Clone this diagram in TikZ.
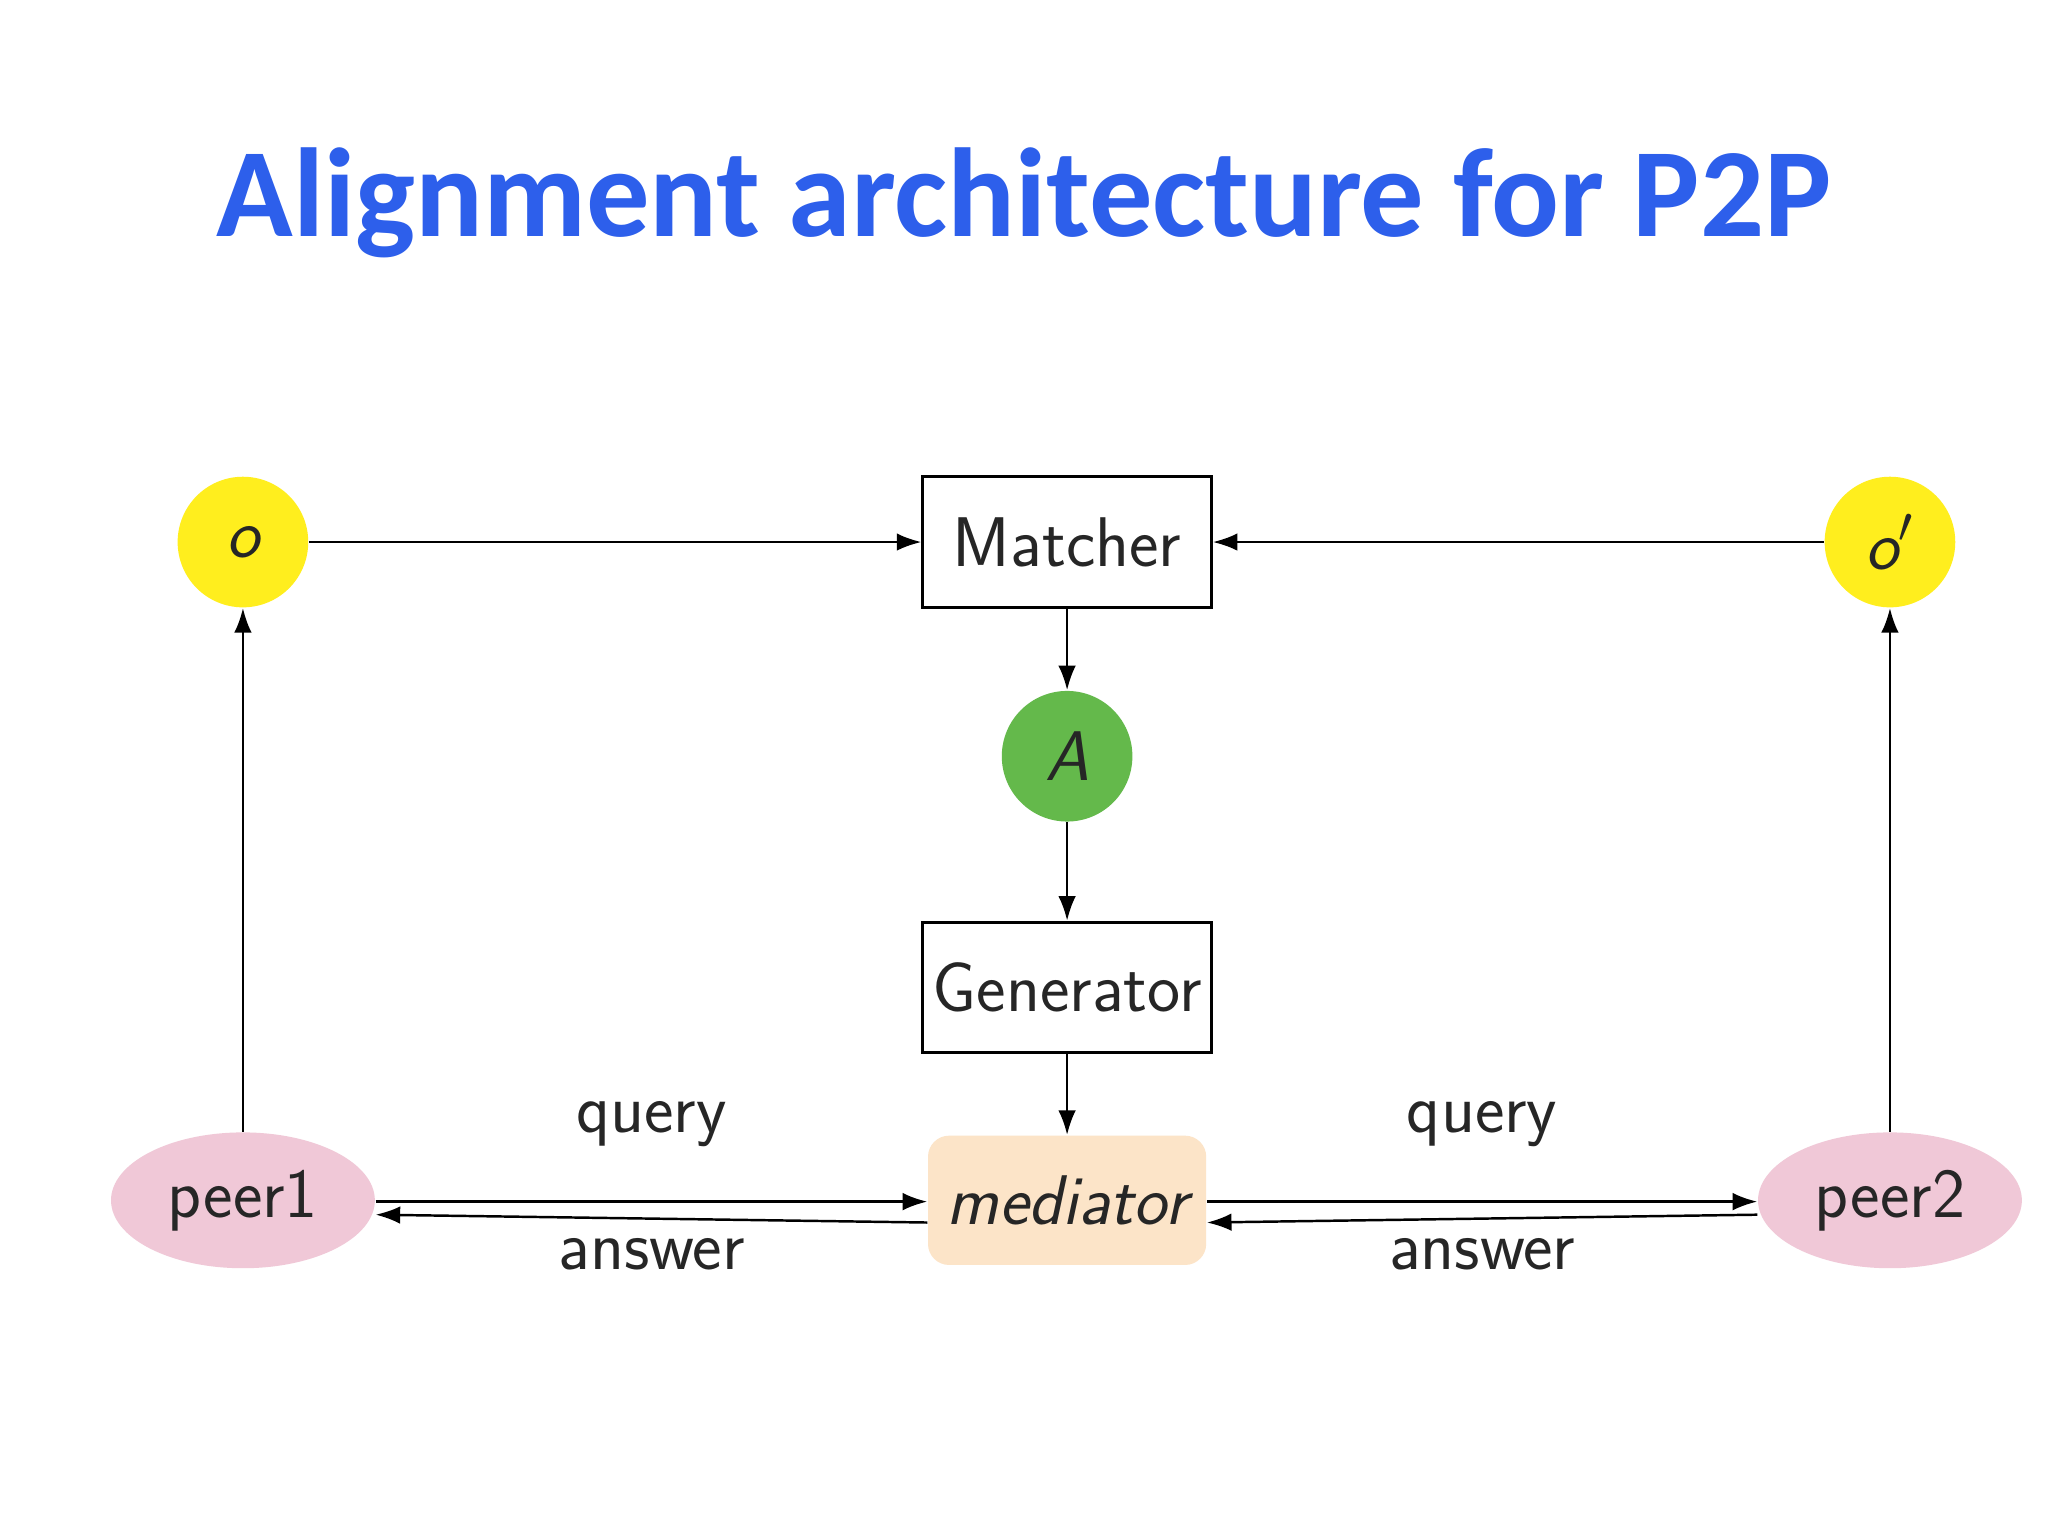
\documentclass[tikz,border=0pt]{standalone}
\usepackage{fontspec}
\newfontfamily\titlefont{Carlito}
\usetikzlibrary{arrows.meta,shapes.geometric}
\definecolor{tblue}{RGB}{45,95,235}
\definecolor{ylw}{RGB}{255,238,30}
\definecolor{grn}{RGB}{100,185,75}
\definecolor{pch}{RGB}{252,228,200}
\definecolor{pnk}{RGB}{240,200,215}
\begin{document}
\begin{tikzpicture}[x=0.01306cm,y=-0.01306cm,
  lab/.style={font=\sffamily\fontsize{20}{22}\selectfont,text=black!85},
  box/.style={draw,line width=0.8pt,minimum width=221*0.01306cm,minimum height=100*0.01306cm,inner xsep=1pt,lab},
  circ/.style={circle,minimum size=100*0.01306cm,inner sep=0pt,lab},
  pe/.style={ellipse,fill=pnk,minimum width=202*0.01306cm,minimum height=104*0.01306cm,inner sep=0pt,lab},
  ar/.style={-{Latex[length=7pt,width=5pt]},line width=0.7pt}]
\useasboundingbox (0,0) rectangle (1568,1176);
\fill[white] (0,0) rectangle (1568,1176);
\node[font=\titlefont\bfseries\fontsize{36}{40}\selectfont,text=tblue] (t) at (784,155) {Alignment architecture for P2P};
\node[circ,fill=ylw] (o) at (186,415) {\itshape o};
\node[circ,fill=ylw] (o2) at (1447,415) {\itshape o$'$};
\node[box] (m) at (817,415) {Matcher};
\node[circ,fill=grn] (A) at (817,579) {\itshape A};
\node[box] (g) at (817,756) {Generator};
\node[lab,fill=pch,rounded corners=6pt,minimum width=213*0.01306cm,minimum height=99*0.01306cm] (med) at (817,919) {\itshape mediator};
\node[pe] (p1) at (186,919) {peer1};
\node[pe] (p2) at (1447,919) {peer2};
\draw[ar] (o) -- (m);
\draw[ar] (o2) -- (m);
\draw[ar] (m) -- (A);
\draw[ar] (A) -- (g);
\draw[ar] (g) -- (med);
\draw[ar] (p1) -- (o);
\draw[ar] (p2) -- (o2);
\draw[ar] (p1.east |- 0,920) -- node[lab,above=12pt] {query} (med.west |- 0,920);
\draw[ar] (med.west |- 0,936) -- node[lab,below=2pt] {answer} (p1.east |- 0,930);
\draw[ar] (med.east |- 0,920) -- node[lab,above=12pt] {query} (p2.west |- 0,920);
\draw[ar] (p2.west |- 0,930) -- node[lab,below=2pt] {answer} (med.east |- 0,936);
\end{tikzpicture}
\end{document}
